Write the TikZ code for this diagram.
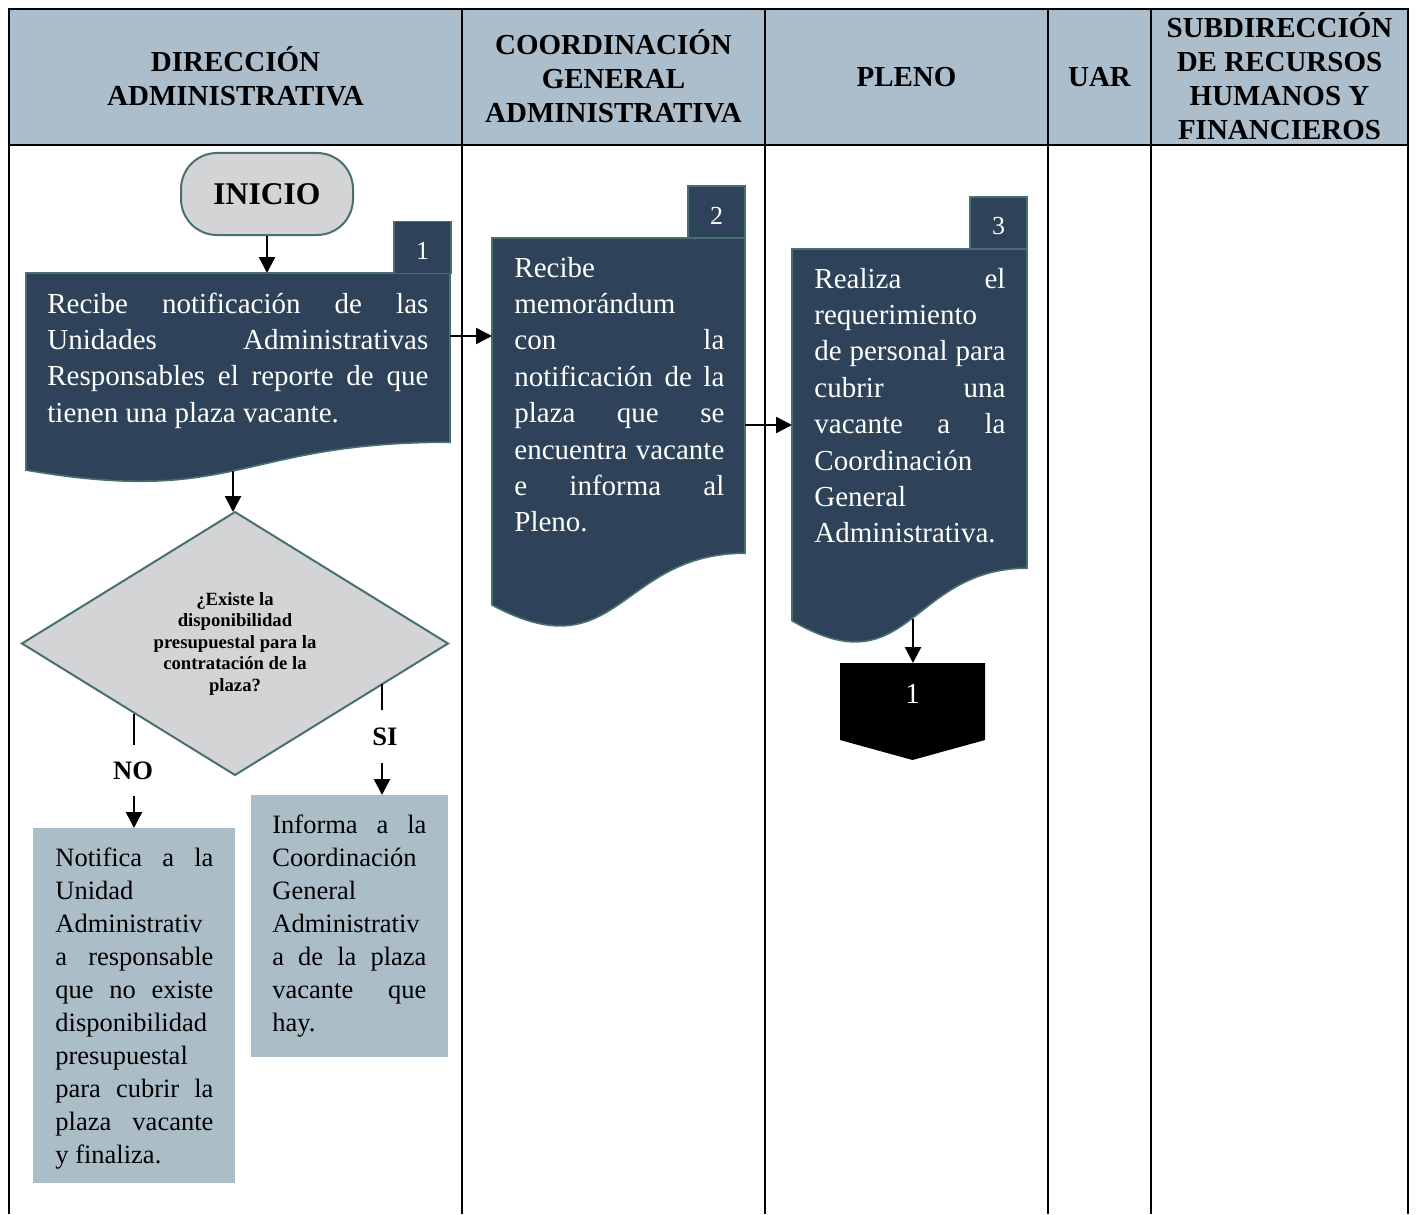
\documentclass[tikz,border=0pt]{standalone}
\usepackage{fontspec}
\setmainfont{Liberation Serif}
\usetikzlibrary{arrows.meta,shapes.geometric}
\definecolor{hdr}{RGB}{172,190,203}
\definecolor{darkbox}{RGB}{46,67,89}
\definecolor{edgeteal}{RGB}{72,112,112}
\definecolor{lightbox}{RGB}{171,190,199}
\definecolor{greyfill}{RGB}{211,212,214}
\newcommand\jl[2]{{\spaceskip=0.25em plus 1fil\relax\xspaceskip=0.25em plus 1fil\relax\makebox[#1][s]{#2}}}
\newcommand\nl[1]{{\spaceskip=0.25em\relax\xspaceskip=0.25em\relax #1}}
\begin{document}
\begin{tikzpicture}[x=0.5pt,y=-0.5pt,
  tbl/.style={line width=1.25pt},
  docshape/.style={fill=darkbox, draw=edgeteal, line width=0.8pt},
  tabbox/.style={fill=darkbox, draw=edgeteal, line width=0.8pt, minimum width=28.5pt, minimum height=26pt, inner sep=0},
  tabnum/.style={text=white, font=\fontsize{13}{15}\selectfont, inner sep=0},
  boxtxt/.style={text=white, font=\fontsize{14.5}{18.2}\selectfont, inner sep=0, anchor=base west, align=left},
  ltxt/.style={text=black, font=\fontsize{13.25}{16.5}\selectfont, inner sep=0, anchor=base west, align=left},
  lbox/.style={fill=lightbox, inner sep=0, anchor=north west},
  hdrtxt/.style={font=\bfseries\fontsize{14.5}{17}\selectfont, align=center, inner sep=0},
  startstop/.style={draw=edgeteal, fill=greyfill, line width=1pt, rounded corners=18pt,
    minimum width=86pt, minimum height=41pt, font=\bfseries\fontsize{15.8}{18}\selectfont},
  decision/.style={diamond, aspect=1.6, draw=edgeteal, fill=greyfill, line width=1pt,
    minimum width=213pt, minimum height=131.5pt, inner sep=0, outer sep=0,
    font=\bfseries\fontsize{9.35}{10.75}\selectfont, align=center},
  lbl/.style={font=\bfseries\fontsize{13.3}{15}\selectfont, inner sep=0},
  plain/.style={line width=1.2pt},
  arr/.style={line width=1.2pt, -{Triangle[length=8pt,width=8pt]}}
]
\useasboundingbox (0,0) rectangle (1416,1214);
% table
\fill[hdr] (9,9) rectangle (1408,145);
\draw[tbl] (9,1214) -- (9,9) -- (1408,9) -- (1408,1214);
\draw[tbl] (9,145) -- (1408,145);
\foreach \xx in {462,765,1048,1151} \draw[tbl] (\xx,9) -- (\xx,1214);
\node[hdrtxt] (h1) at (235.5,76) {DIRECCIÓN\\ADMINISTRATIVA};
\node[hdrtxt] (h2) at (613.5,76) {COORDINACIÓN\\GENERAL\\ADMINISTRATIVA};
\node[hdrtxt] (h3) at (906.5,77) {PLENO};
\node[hdrtxt] (h4) at (1099.5,77) {UAR};
\node[hdrtxt] (h5) at (1279.5,76) {SUBDIRECCIÓN\\DE RECURSOS\\HUMANOS Y\\FINANCIEROS};
% start
\node[startstop] (inicio) at (267,194) {INICIO};
% box 1
\path[docshape] (26,273) -- (450,273) -- (450,442.2) .. controls (238,442.2) and (238,506.6) .. (26,470.1) -- cycle;
\node[tabbox] (tab1) at (422.5,247.5) {};
\node[tabnum] (num1) at (422.5,251) {1};
\node[boxtxt, text width=190.5pt] (txt1) at (47,313) {\jl{190.5pt}{Recibe notificación de las}\\\jl{190.5pt}{Unidades Administrativas}\\\jl{190.5pt}{Responsables el reporte de que}\\\nl{tienen una plaza vacante.}};
% box 2
\path[docshape] (492,238) -- (745,238) -- (745,553.2) .. controls (618.5,553.2) and (618.5,673) .. (492,605) -- cycle;
\node[tabbox] (tab2) at (716.5,212) {};
\node[tabnum] (num2) at (716.5,215.5) {2};
\node[boxtxt, text width=105pt] (txt2) at (514,277) {Recibe\\memorándum\\\jl{105pt}{con la}\\\jl{105pt}{notificación de la}\\\jl{105pt}{plaza que se}\\\jl{105pt}{encuentra vacante}\\\jl{105pt}{e informa al}\\Pleno.};
% box 3
\path[docshape] (792,249) -- (1027,249) -- (1027,568.2) .. controls (909.5,568.2) and (909.5,689.6) .. (792,620.7) -- cycle;
\node[tabbox] (tab3) at (998.5,223) {};
\node[tabnum] (num3) at (998.5,226.5) {3};
\node[boxtxt, text width=95.5pt] (txt3) at (814,288) {\jl{95.5pt}{Realiza el}\\requerimiento\\\jl{95.5pt}{de personal para}\\\jl{95.5pt}{cubrir una}\\\jl{95.5pt}{vacante a la}\\Coordinación\\General\\Administrativa.};
% off-page connector
\fill[black] (840,663) -- (985,663) -- (985,740) -- (912.5,760) -- (840,740) -- cycle;
\node[text=white, font=\fontsize{14.5}{16}\selectfont, inner sep=0] (offlbl) at (912.5,694) {1};
% decision
\node[decision] (dec) at (235,643.5) {¿Existe la\\disponibilidad\\presupuestal para la\\contratación de la\\plaza?};
% NO / SI boxes
\node[lbox, minimum width=101pt, minimum height=177.5pt] (nobox) at (33,828) {};
\node[ltxt, text width=79pt] (notxt) at (55,866) {\jl{79pt}{Notifica a la}\\Unidad\\Administrativ\\\jl{79pt}{a responsable}\\\jl{79pt}{que no existe}\\disponibilidad\\presupuestal\\\jl{79pt}{para cubrir la}\\\jl{79pt}{plaza vacante}\\\nl{y finaliza.}};
\node[lbox, minimum width=98.5pt, minimum height=131pt] (sibox) at (251,795) {};
\node[ltxt, text width=77pt] (sitxt) at (272,833) {\jl{77pt}{Informa a la}\\Coordinación\\General\\Administrativ\\\jl{77pt}{a de la plaza}\\\jl{77pt}{vacante que}\\hay.};
% connectors
\coordinate (b1top) at (267,273);
\draw[arr] (inicio) -- (b1top);
\coordinate (b1e) at (450,336);
\coordinate (b2w) at (492,336);
\draw[arr] (b1e) -- (b2w);
\coordinate (b2e) at (745,425);
\coordinate (b3w) at (792,425);
\draw[arr] (b2e) -- (b3w);
\coordinate (b1bot) at (233,471);
\draw[arr] (b1bot) -- (b1bot |- dec.north);
\coordinate (b3bot) at (913,619);
\coordinate (offtop) at (913,663);
\draw[arr] (b3bot) -- (offtop);
% NO branch
\coordinate (no1) at (134,714);
\coordinate (no2) at (134,745);
\draw[plain] (no1) -- (no2);
\node[lbl] (nolbl) at (133,771) {NO};
\coordinate (no3) at (134,796);
\draw[arr] (no3) -- (no3 |- nobox.north);
% SI branch
\coordinate (si1) at (382,684);
\coordinate (si2) at (382,710);
\draw[plain] (si1) -- (si2);
\node[lbl] (silbl) at (385,737) {SI};
\coordinate (si3) at (382,763);
\draw[arr] (si3) -- (si3 |- sibox.north);
\end{tikzpicture}
\end{document}
